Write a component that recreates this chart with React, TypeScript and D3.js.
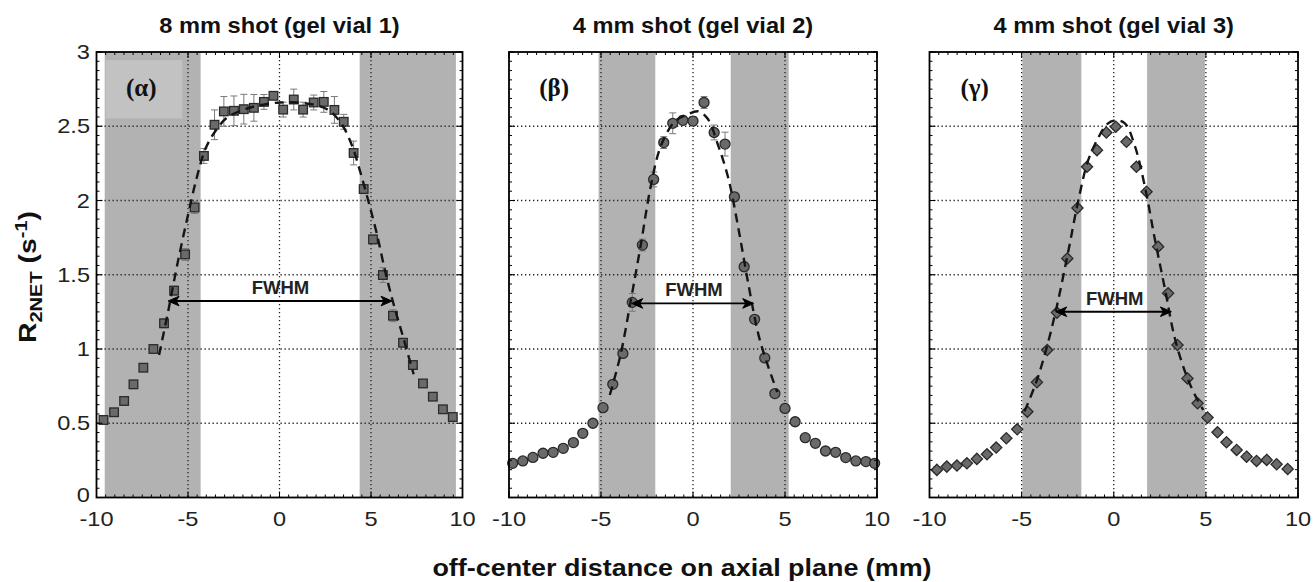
import React from "react";
import * as d3 from "d3";

// ---------- data ----------
const X_TICKS = [-10, -5, 0, 5, 10];
const X_TICK_LABELS = ["-10", "-5", "0", "5", "10"];
const Y_TICKS = [0, 0.5, 1, 1.5, 2, 2.5, 3];
const Y_TICK_LABELS = ["0", "0.5", "1", "1.5", "2", "2.5", "3"];
const GRID_X = [-5, 0, 5];
const GRID_Y = [0.5, 1, 1.5, 2, 2.5];

const TITLES = ["8 mm shot (gel vial 1)", "4 mm shot (gel vial 2)", "4 mm shot (gel vial 3)"];
const PANEL_LABELS = ["(α)", "(β)", "(γ)"];

// panel 1 (squares)
const X1 = [-9.62, -9.04, -8.49, -7.98, -7.44, -6.89, -6.31, -5.76, -5.16, -4.64, -4.13, -3.55, -3.04, -2.49, -1.95, -1.40, -0.85, -0.33, 0.20, 0.78, 1.29, 1.87, 2.42, 3.00, 3.51, 4.05, 4.60, 5.11, 5.65, 6.20, 6.75, 7.29, 7.84, 8.38, 8.93, 9.47];
const Y1 = [0.522, 0.574, 0.650, 0.762, 0.874, 1.00, 1.173, 1.393, 1.637, 1.953, 2.30, 2.51, 2.60, 2.604, 2.615, 2.624, 2.664, 2.705, 2.612, 2.68, 2.612, 2.66, 2.664, 2.61, 2.53, 2.32, 2.077, 1.738, 1.498, 1.224, 1.042, 0.892, 0.768, 0.679, 0.594, 0.542];
const E1 = [0.02, 0.02, 0.02, 0.02, 0.02, 0.02, 0.03, 0.03, 0.04, 0.04, 0.05, 0.1, 0.1, 0.1, 0.1, 0.09, 0.05, 0.02, 0.05, 0.07, 0.05, 0.05, 0.07, 0.09, 0.05, 0.08, 0.03, 0.03, 0.05, 0.04, 0.03, 0.03, 0.02, 0.02, 0.02, 0.02];
const FIT1_X = [-6.58, -6.09, -5.55, -5.04, -4.53, -4.04, -3.49, -2.85, -1.76, -0.67, 0.05, 0.96, 2.05, 2.78, 3.42, 3.96, 4.42, 4.87, 5.33, 5.78, 6.24, 6.78, 7.33];
const FIT1_Y = [0.96, 1.25, 1.59, 1.88, 2.15, 2.35, 2.47, 2.56, 2.62, 2.65, 2.66, 2.66, 2.64, 2.60, 2.51, 2.37, 2.19, 1.99, 1.77, 1.52, 1.30, 1.07, 0.83];
const SHADE1 = [[-9.55, -4.31], [4.38, 9.64]];
const FWHM1 = [-6.09, 6.15, 1.323];

// panel 2 (circles)
const X2 = [-9.80, -9.25, -8.70, -8.15, -7.60, -7.05, -6.50, -5.99, -5.44, -4.89, -4.36, -3.81, -3.30, -2.75, -2.14, -1.59, -1.10, -0.55, 0.0, 0.60, 1.15, 1.74, 2.25, 2.78, 3.35, 3.90, 4.45, 5.00, 5.55, 6.10, 6.65, 7.20, 7.75, 8.30, 8.85, 9.40, 9.87];
const Y2 = [0.23, 0.246, 0.27, 0.298, 0.304, 0.331, 0.37, 0.432, 0.5, 0.605, 0.762, 0.97, 1.314, 1.70, 2.142, 2.39, 2.52, 2.54, 2.535, 2.66, 2.458, 2.38, 2.025, 1.554, 1.2, 0.94, 0.70, 0.60, 0.51, 0.403, 0.365, 0.313, 0.304, 0.269, 0.246, 0.242, 0.23];
const E2 = [0.02, 0.02, 0.02, 0.02, 0.02, 0.02, 0.02, 0.02, 0.02, 0.02, 0.02, 0.02, 0.06, 0.04, 0.05, 0.04, 0.07, 0.03, 0.03, 0.04, 0.05, 0.08, 0.03, 0.03, 0.02, 0.02, 0.02, 0.02, 0.02, 0.02, 0.02, 0.02, 0.02, 0.02, 0.02, 0.02, 0.02];
const FIT2_X = [-4.52, -3.94, -3.39, -2.84, -2.29, -1.74, -1.0, -0.3, 0.3, 0.8, 1.37, 1.92, 2.47, 3.02, 3.57, 4.12, 4.58];
const FIT2_Y = [0.69, 0.96, 1.32, 1.70, 2.10, 2.37, 2.53, 2.58, 2.60, 2.55, 2.37, 2.15, 1.81, 1.43, 1.09, 0.87, 0.71];
const SHADE2 = [[-5.13, -2.05], [2.05, 5.2]];
const FWHM2 = [-3.33, 3.30, 1.307];

// panel 3 (diamonds)
const X3 = [-9.60, -9.06, -8.51, -7.97, -7.43, -6.88, -6.38, -5.83, -5.24, -4.69, -4.17, -3.61, -3.08, -2.52, -1.97, -1.45, -0.91, -0.40, 0.11, 0.69, 1.23, 1.78, 2.41, 2.95, 3.46, 4.00, 4.55, 5.09, 5.63, 6.12, 6.67, 7.21, 7.75, 8.30, 8.84, 9.44];
const Y3 = [0.186, 0.208, 0.215, 0.23, 0.26, 0.291, 0.336, 0.399, 0.459, 0.578, 0.776, 0.993, 1.245, 1.61, 1.95, 2.227, 2.339, 2.458, 2.497, 2.395, 2.227, 2.059, 1.689, 1.375, 1.027, 0.802, 0.634, 0.538, 0.439, 0.372, 0.32, 0.275, 0.246, 0.253, 0.224, 0.192];
const E3 = [0.02, 0.02, 0.02, 0.02, 0.02, 0.02, 0.02, 0.02, 0.02, 0.02, 0.02, 0.02, 0.02, 0.02, 0.02, 0.02, 0.02, 0.02, 0.02, 0.02, 0.02, 0.02, 0.02, 0.02, 0.02, 0.02, 0.02, 0.02, 0.02, 0.02, 0.02, 0.02, 0.02, 0.02, 0.02, 0.02];
const FIT3_X = [-4.84, -4.2, -3.66, -3.12, -2.48, -1.94, -1.39, -0.85, -0.4, 0.05, 0.6, 1.14, 1.68, 2.23, 2.77, 3.32, 3.95, 4.49, 4.86];
const FIT3_Y = [0.58, 0.78, 1.0, 1.27, 1.65, 1.99, 2.27, 2.42, 2.51, 2.54, 2.52, 2.37, 2.10, 1.74, 1.41, 1.07, 0.82, 0.67, 0.59];
const SHADE3 = [[-4.96, -1.76], [1.81, 4.95]];
const FWHM3 = [-3.15, 3.13, 1.251];

// label box behind (α)
const LABEL_BOX1 = [-9.5, -5.31, 2.553, 2.945];

// ---------- layout ----------
const W = 1313;
const H = 582;
const TOP = 52;
const BOTTOM = 497.5;
const PANEL_X = [
  [96.5, 462.5],
  [509, 877],
  [929.5, 1298],
];
const SANS = "'Liberation Sans', Arial, Helvetica, sans-serif";
const SERIF = "'Liberation Serif', 'Times New Roman', serif";

const yScale = d3.scaleLinear().domain([0, 3]).range([BOTTOM, TOP]);

type PanelProps = {
  idx: number;
  xs: number[];
  ys: number[];
  es: number[];
  fx: number[];
  fy: number[];
  shade: number[][];
  fwhm: number[];
  marker: "square" | "circle" | "diamond";
};

function Marker({ kind, x, y }: { kind: string; x: number; y: number }) {
  const fill = "#6a6a6a";
  const stroke = "#2a2a2a";
  if (kind === "square") {
    const s = 8.6;
    return <rect x={x - s / 2} y={y - s / 2} width={s} height={s} fill={fill} stroke={stroke} strokeWidth={1.3} />;
  }
  if (kind === "circle") {
    return <circle cx={x} cy={y} r={5} fill={fill} stroke={stroke} strokeWidth={1.3} />;
  }
  const r = 5.6;
  return (
    <path
      d={`M${x},${y - r}L${x + r},${y}L${x},${y + r}L${x - r},${y}Z`}
      fill={fill}
      stroke={stroke}
      strokeWidth={1.3}
    />
  );
}

function Panel({ idx, xs, ys, es, fx, fy, shade, fwhm, marker }: PanelProps) {
  const [x0, x1] = PANEL_X[idx];
  const xScale = d3.scaleLinear().domain([-10, 10]).range([x0, x1]);
  const line = d3
    .line<number>()
    .x((_, i) => xScale(fx[i]))
    .y((_, i) => yScale(fy[i]))
    .curve(d3.curveCatmullRom.alpha(0.5));
  const fitPath = line(fx) || "";

  const minorX = d3.range(-10, 10.001, 0.5);
  const minorY = d3.range(0, 3.001, 0.0625);

  const ay = yScale(fwhm[2]);
  const ax0 = xScale(fwhm[0]);
  const ax1 = xScale(fwhm[1]);
  const cx = (x0 + x1) / 2;

  return (
    <g>
      {shade.map((s, i) => (
        <rect
          key={"s" + i}
          x={xScale(s[0])}
          y={TOP}
          width={xScale(s[1]) - xScale(s[0])}
          height={BOTTOM - TOP}
          fill="#b2b2b2"
        />
      ))}
      {idx === 0 && (
        <rect
          x={xScale(LABEL_BOX1[0])}
          y={yScale(LABEL_BOX1[3])}
          width={xScale(LABEL_BOX1[1]) - xScale(LABEL_BOX1[0])}
          height={yScale(LABEL_BOX1[2]) - yScale(LABEL_BOX1[3])}
          fill="#c2c2c2"
        />
      )}
      {GRID_X.map((g) => (
        <line
          key={"gx" + g}
          x1={xScale(g)}
          x2={xScale(g)}
          y1={TOP}
          y2={BOTTOM}
          stroke="#222"
          strokeWidth={1.3}
          strokeDasharray="1.3 2.7"
        />
      ))}
      {GRID_Y.map((g) => (
        <line
          key={"gy" + g}
          x1={x0}
          x2={x1}
          y1={yScale(g)}
          y2={yScale(g)}
          stroke="#222"
          strokeWidth={1.3}
          strokeDasharray="1.3 2.7"
        />
      ))}
      {xs.map((x, i) => {
        const px = xScale(x);
        const yt = yScale(ys[i] + es[i]);
        const yb = yScale(ys[i] - es[i]);
        return (
          <g key={"e" + i} stroke="#7a7a7a" strokeWidth={1}>
            <line x1={px} x2={px} y1={yt} y2={yb} />
            <line x1={px - 3.5} x2={px + 3.5} y1={yt} y2={yt} />
            <line x1={px - 3.5} x2={px + 3.5} y1={yb} y2={yb} />
          </g>
        );
      })}
      {xs.map((x, i) => (
        <Marker key={"m" + i} kind={marker} x={xScale(x)} y={yScale(ys[i])} />
      ))}
      <path d={fitPath} fill="none" stroke="#151515" strokeWidth={2.4} strokeDasharray="9 6" />
      <line x1={ax0 + 6} x2={ax1 - 6} y1={ay} y2={ay} stroke="#000" strokeWidth={1.9} />
      <path d={`M${ax0},${ay}L${ax0 + 11},${ay - 4.8}L${ax0 + 8},${ay}L${ax0 + 11},${ay + 4.8}Z`} fill="#000" stroke="#000" strokeWidth={1} />
      <path d={`M${ax1},${ay}L${ax1 - 11},${ay - 4.8}L${ax1 - 8},${ay}L${ax1 - 11},${ay + 4.8}Z`} fill="#000" stroke="#000" strokeWidth={1} />
      <text
        x={xScale(0.05)}
        y={ay - 7}
        textAnchor="middle"
        fontFamily={SANS}
        fontWeight="bold"
        fontSize={18.5}
        fill="#222"
      >
        FWHM
      </text>
      <text
        x={xScale(-7.55)}
        y={96}
        textAnchor="middle"
        fontFamily={SERIF}
        fontWeight="bold"
        fontSize={25}
        fill="#111"
      >
        {PANEL_LABELS[idx]}
      </text>
      <g stroke="#000" strokeWidth={1}>
        {minorX.map((t) => (
          <g key={"mx" + t}>
            <line x1={xScale(t)} x2={xScale(t)} y1={BOTTOM} y2={BOTTOM - 3} />
            <line x1={xScale(t)} x2={xScale(t)} y1={TOP} y2={TOP + 3} />
          </g>
        ))}
        {minorY.map((t) => (
          <g key={"my" + t}>
            <line x1={x0} x2={x0 + 3} y1={yScale(t)} y2={yScale(t)} />
            <line x1={x1} x2={x1 - 3} y1={yScale(t)} y2={yScale(t)} />
          </g>
        ))}
        {X_TICKS.map((t) => (
          <g key={"tx" + t}>
            <line x1={xScale(t)} x2={xScale(t)} y1={BOTTOM} y2={BOTTOM - 6} />
            <line x1={xScale(t)} x2={xScale(t)} y1={TOP} y2={TOP + 6} />
          </g>
        ))}
        {Y_TICKS.map((t) => (
          <g key={"ty" + t}>
            <line x1={x0} x2={x0 + 6} y1={yScale(t)} y2={yScale(t)} />
            <line x1={x1} x2={x1 - 6} y1={yScale(t)} y2={yScale(t)} />
          </g>
        ))}
      </g>
      <rect x={x0} y={TOP} width={x1 - x0} height={BOTTOM - TOP} fill="none" stroke="#000" strokeWidth={1.8} />
      {X_TICKS.map((t, i) => (
        <text
          key={"xl" + t}
          transform={`translate(${xScale(t)},526) scale(1.18,1)`}
          textAnchor="middle"
          fontFamily={SANS}
          fontSize={20}
          fill="#222"
        >
          {X_TICK_LABELS[i]}
        </text>
      ))}
      {idx === 0 &&
        Y_TICKS.map((t, i) => (
          <text
            key={"yl" + t}
            transform={`translate(90,${yScale(t) + (i === 0 ? 4 : 7)}) scale(1.18,1)`}
            textAnchor="end"
            fontFamily={SANS}
            fontSize={20}
            fill="#222"
          >
            {Y_TICK_LABELS[i]}
          </text>
        ))}
      <text
        transform={`translate(${cx},33) scale(1.1,1)`}
        textAnchor="middle"
        fontFamily={SANS}
        fontWeight="bold"
        fontSize={21.5}
        fill="#111"
      >
        {TITLES[idx]}
      </text>
    </g>
  );
}

export default function App() {
  return (
    <svg
      width={W}
      height={H}
      viewBox={`0 0 ${W} ${H}`}
      style={{ position: "absolute", left: 0, top: 0, background: "#fff" }}
    >
      <rect x={0} y={0} width={W} height={H} fill="#fff" />
      <Panel idx={0} xs={X1} ys={Y1} es={E1} fx={FIT1_X} fy={FIT1_Y} shade={SHADE1} fwhm={FWHM1} marker="square" />
      <Panel idx={1} xs={X2} ys={Y2} es={E2} fx={FIT2_X} fy={FIT2_Y} shade={SHADE2} fwhm={FWHM2} marker="circle" />
      <Panel idx={2} xs={X3} ys={Y3} es={E3} fx={FIT3_X} fy={FIT3_Y} shade={SHADE3} fwhm={FWHM3} marker="diamond" />
      <text
        transform="translate(36,277) rotate(-90) scale(1.18,1)"
        textAnchor="middle"
        fontFamily={SANS}
        fontWeight="bold"
        fontSize={24}
        fill="#111"
      >
        R
        <tspan fontSize={17} dy={6}>2NET</tspan>
        <tspan dy={-6}> (s</tspan>
        <tspan fontSize={17} dy={-9}>-1</tspan>
        <tspan dy={9}>)</tspan>
      </text>
      <text
        transform="translate(682,576) scale(1.17,1)"
        textAnchor="middle"
        fontFamily={SANS}
        fontWeight="bold"
        fontSize={23}
        fill="#111"
      >
        off-center distance on axial plane (mm)
      </text>
    </svg>
  );
}
